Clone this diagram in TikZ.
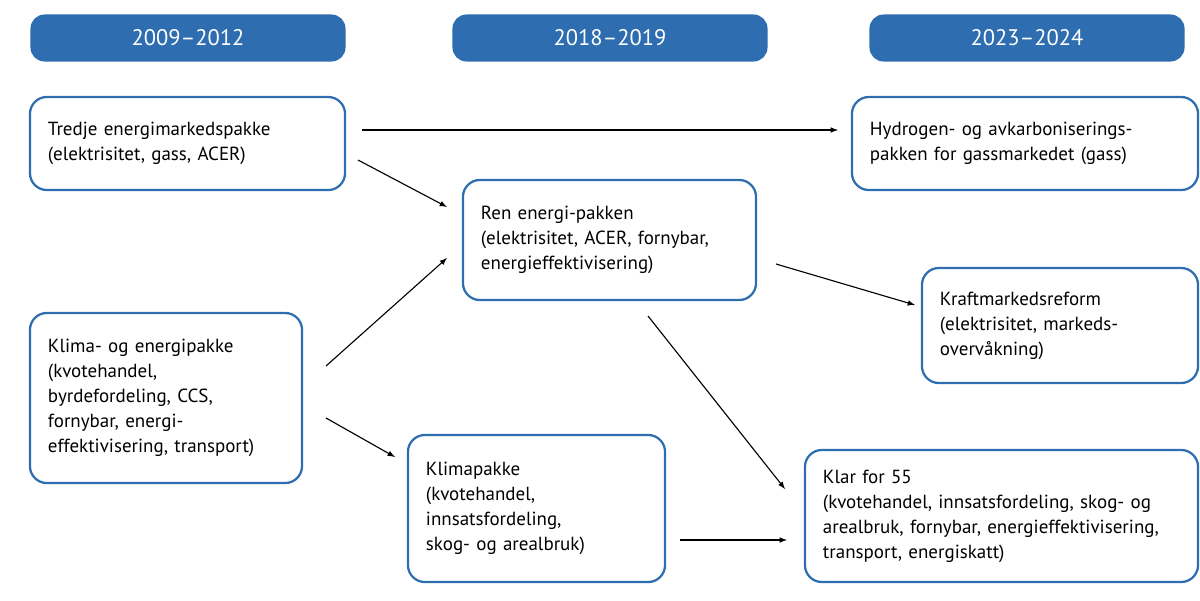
\documentclass[tikz,border=0pt]{standalone}
\usepackage{fontspec}
\setmainfont{PT Sans}
\definecolor{nblue}{HTML}{2E6EB0}
\begin{document}
\begin{tikzpicture}[x=0.025cm,y=-0.025cm,
 hdr/.style={fill=nblue,rounded corners=10pt,minimum width=7.875cm,minimum height=1.175cm,text=white,font=\fontsize{16}{19}\selectfont},
 box/.style={draw=nblue,line width=1.6pt,rounded corners=12pt,align=left,inner xsep=0.45cm,font=\fontsize{13.5}{17.8}\selectfont},
 arr/.style={-latex,line width=0.8pt}]
\useasboundingbox (0,0) rectangle (1200,600);
\node[hdr] (h1) at (188,38) {2009–2012};
\node[hdr] (h2) at (610,38) {2018–2019};
\node[hdr] (h3) at (1027,38) {2023–2024};
\node[box,minimum width=7.875cm,minimum height=2.325cm,text width=6.975cm] (A) at (187.5,143.5) {Tredje energimarkedspakke\\(elektrisitet, gass, ACER)};
\node[box,minimum width=8.65cm,minimum height=2.325cm,text width=7.75cm] (B) at (1025,143.5) {Hydrogen- og avkarboniserings-\\pakken for gassmarkedet (gass)};
\node[box,minimum width=7.325cm,minimum height=3cm,text width=6.425cm] (C) at (609.5,240) {Ren energi-pakken\\(elektrisitet, ACER, fornybar,\\energieffektivisering)};
\node[box,minimum width=6.9cm,minimum height=2.875cm,text width=6cm] (D) at (1060,325.5) {Kraftmarkedsreform\\(elektrisitet, markeds-\\overvåkning)};
\node[box,minimum width=6.8cm,minimum height=4.25cm,text width=5.9cm] (E) at (166,398) {Klima- og energipakke\\(kvotehandel,\\byrdefordeling, CCS,\\fornybar, energi-\\effektivisering, transport)};
\node[box,minimum width=6.425cm,minimum height=3.675cm,text width=5.525cm] (F) at (536.5,508.5) {Klimapakke\\(kvotehandel,\\innsatsfordeling,\\skog- og arealbruk)};
\node[box,minimum width=9.825cm,minimum height=3.3cm,text width=8.925cm] (G) at (1001.5,516) {Klar for 55\\(kvotehandel, innsatsfordeling, skog- og\\arealbruk, fornybar, energieffektivisering,\\transport, energiskatt)};
\coordinate (a1) at (362,130); \coordinate (b1) at (838,130);
\coordinate (a2) at (358,160); \coordinate (c1) at (447,207);
\coordinate (e1) at (326,366); \coordinate (c2) at (447,258);
\coordinate (e2) at (326,418); \coordinate (f1) at (395,457);
\coordinate (c3) at (776,264); \coordinate (d1) at (915,305);
\coordinate (c4) at (648,316); \coordinate (g1) at (785,489);
\coordinate (f2) at (680,540); \coordinate (g2) at (787,540);
\draw[arr] (a1)--(b1);
\draw[arr] (a2)--(c1);
\draw[arr] (e1)--(c2);
\draw[arr] (e2)--(f1);
\draw[arr] (c3)--(d1);
\draw[arr] (c4)--(g1);
\draw[arr] (f2)--(g2);
\end{tikzpicture}
\end{document}
